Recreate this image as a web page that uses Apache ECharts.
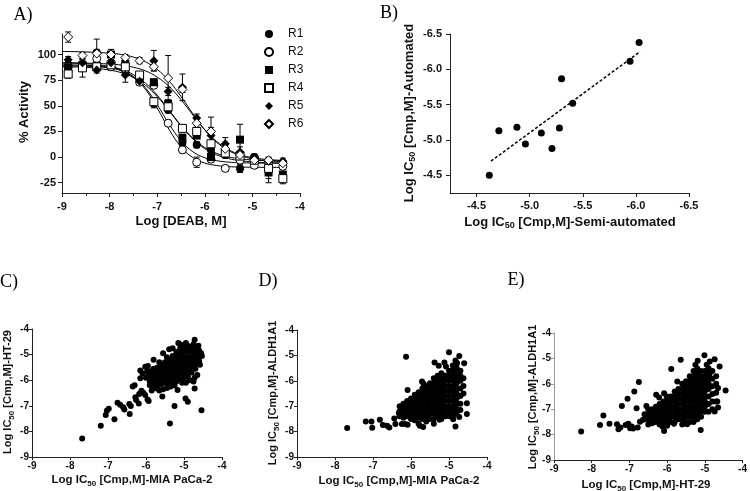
<!DOCTYPE html>
<html><head><meta charset="utf-8">
<script src="https://cdn.jsdelivr.net/npm/echarts@6/dist/echarts.min.js"></script>
<style>html,body{margin:0;padding:0;background:#fff}#c{width:750px;height:491px}</style>
</head><body><div id="c"></div>
<script>
// ---------- Panel A data ----------
const conc = [-8.87,-8.57,-8.27,-7.97,-7.67,-7.37,-7.07,-6.77,-6.47,-6.17,-5.87,-5.57,-5.26,-4.96,-4.66,-4.36];
const seriesNames = ['R1','R2','R3','R4','R5','R6'];
const r1 = [90,90,102,91,84,76,52,46,14,12,7,2,-11,0,-6,-6];
const r2 = [88,89,96,88,86,73,70,33,7,-5,-2,-11,-3,-8,-5,-9];
const r3 = [87,90,89,100,91,79,73,52,19,21,0,5,17,-2,-15,-17];
const r4 = [81,87,88,90,88,80,54,49,28,25,13,4,1,-3,-11,-21];
const r5 = [95,92,85,92,80,74,94,64,68,38,21,13,5,-1,-4,-4];
const r6 = [117,99,101,100,97,94,88,77,66,33,25,8,2,-3,-3,-6];
const e1 = [3,3,13,4,3,3,4,3,3,3,3,3,4,3,3,3];
const e2 = [3,3,4,3,3,3,3,3,3,5,3,3,3,3,3,3];
const e3 = [3,3,3,5,3,3,3,4,3,3,4,3,15,3,10,5];
const e4 = [4,9,3,3,3,3,4,3,3,4,3,3,3,3,10,5];
const e5 = [3,3,3,3,7,3,10,4,13,4,8,6,5,3,3,3];
const e6 = [5,3,3,3,3,3,4,22,3,4,14,3,3,4,3,3];
// fitted curves
const fitX = [-9,-8.5,-8,-7.75,-7.5,-7.25,-7,-6.75,-6.5,-6.25,-6,-5.75,-5.5,-5.25,-5,-4.75,-4.36];
const f1 = [89.9,89.5,87.5,84.6,78.6,67.8,51.1,32.2,15.9,5.2,-0.7,-3.5,-4.9,-5.5,-5.8,-5.9,-6];
const f2 = [89,88.6,86.9,84,77.9,66.2,47.9,26.9,9.9,-0.5,-5.8,-8.2,-9.3,-9.7,-9.9,-10,-10];
const f3 = [91.7,91,88.4,85.4,80.4,72.2,60.4,45.7,30.9,18.4,9.3,3.6,0.2,-1.7,-2.8,-3.4,-3.8];
const f4 = [88,87.5,84.8,82.2,77.5,70.1,59,45.1,30.4,17.7,8.2,2.2,-1.5,-3.5,-4.7,-5.3,-5.7];
const f5 = [92,91.6,90.7,89.7,87.6,84.1,78,68.9,56,41,26.6,15.2,7.2,2.3,-0.6,-2.1,-3.3];
const f6 = [103,102.5,101.3,100,97.5,93,85.5,74.2,59.1,42.2,26.5,14.4,6.3,1.3,-1.6,-3.2,-4.3];
const yTicksA = [-25,0,25,50,75,100];

// ---------- Panel B data ----------
const bX = [-4.62,-4.71,-4.88,-4.96,-5.11,-5.21,-5.30,-5.28,-5.405,-5.945,-6.03];
const bY = [-4.5,-5.13,-5.18,-4.945,-5.10,-4.88,-5.865,-5.17,-5.52,-6.115,-6.38];
const bFitX = [-4.635,-6.04];
const bFitY = [-4.70,-6.25];
const bTicks = [-6.5,-6,-5.5,-5,-4.5];

// ---------- Panel C data (MIA PaCa-2 vs HT-29) ----------
const cPts = [[-7.68,-8.28],[-7.19,-7.78],[-6.83,-7.53],[-7.06,-7.36],[-7.03,-7.19],[-6.98,-7.12],[-6.75,-6.88],[-6.68,-6.96],[-6.6,-7.06],[-6.57,-7.14],[-6.43,-7.32],[-6.44,-6.93],[-6.4,-7.01],[-6.35,-6.25],[-6.3,-6.2],[-6.19,-6.91],[-6.26,-6.77],[-6.28,-6.67],[-6.18,-6.54],[-6.12,-6.41],[-6.07,-6.49],[-6.02,-6.58],[-5.96,-6.75],[-5.93,-6.81],[-6.15,-5.92],[-6.15,-5.62],[-6.09,-5.73],[-6.02,-5.47],[-5.97,-5.66],[-5.93,-5.79],[-5.89,-5.96],[-5.84,-6.12],[-5.8,-5.2],[-5.75,-6.25],[-5.71,-6.32],[-5.57,-6.64],[-5.39,-4.79],[-5.25,-7.01],[-5.37,-7.69],[-5.17,-6.38],[-4.96,-6.71],[-4.9,-6.84],[-4.72,-6.32],[-4.54,-7.17],[-4.72,-4.42],[-4.53,-5.05],
[-5.95,-5.45],[-6.0,-5.9],[-5.85,-6.4],[-5.65,-6.4],[-5.45,-6.3],[-5.05,-6.1],[-4.85,-6.0],[-4.65,-5.8],[-4.62,-4.65],[-5.55,-4.95],[-5.3,-4.75],[-5.1,-4.6],[-5.45,-5.1],[-5.65,-5.3],[-5.25,-6.2],[-4.75,-6.05],[-4.95,-6.1],[-5.15,-4.55],[-4.95,-4.55],[-4.75,-4.6],[-4.55,-4.95],[-4.58,-5.4],[-4.72,-5.9],[-5.0,-6.05],[-5.35,-6.25],[-5.55,-6.35]];
const cCore = [[-5.9,[-5.65,-5.85,-6.05,-6.2]],[-5.8,[-5.55,-5.75,-5.95,-6.15,-6.3]],[-5.7,[-5.5,-5.7,-5.9,-6.1,-6.25]],[-5.6,[-5.4,-5.6,-5.8,-6.0,-6.15]],[-5.5,[-5.3,-5.5,-5.7,-5.9,-6.1]],[-5.4,[-5.2,-5.4,-5.6,-5.8,-6.0,-6.15]],[-5.3,[-5.05,-5.25,-5.45,-5.65,-5.85,-6.05]],[-5.2,[-4.9,-5.1,-5.3,-5.5,-5.7,-5.9,-6.05]],[-5.1,[-4.75,-4.95,-5.15,-5.35,-5.55,-5.75,-5.95]],[-5.0,[-4.7,-4.9,-5.1,-5.3,-5.5,-5.7,-5.9]],[-4.9,[-4.65,-4.85,-5.05,-5.25,-5.45,-5.65,-5.85]],[-4.8,[-4.7,-4.9,-5.1,-5.3,-5.5,-5.7]],[-4.7,[-4.75,-4.95,-5.15,-5.35,-5.55]],[-4.6,[-4.85,-5.05,-5.25]]];

// ---------- Panel D data (MIA PaCa-2 vs ALDH1A1) ----------
const dPts = [[-7.68,-7.86],[-7.19,-7.6],[-7.04,-7.6],[-7.02,-7.85],[-6.82,-7.53],[-6.74,-7.74],[-6.63,-7.77],[-6.57,-7.84],[-6.44,-7.48],[-6.41,-7.7],[-6.32,-7.27],[-6.28,-7.21],[-6.24,-7.7],[-6.15,-7.7],[-6.09,-7.73],[-6.13,-5.05],[-6.09,-6.36],[-6.19,-7.08],[-6.11,-6.88],[-6.02,-7.01],[-5.93,-6.81],[-5.8,-7.69],[-5.77,-7.77],[-5.68,-7.82],[-5.71,-6.03],[-5.67,-6.12],[-5.54,-6.23],[-5.38,-5.28],[-5.27,-5.41],[-5.12,-5.28],[-5.08,-5.44],[-5.40,-7.69],[-5.25,-7.53],[-5.0,-4.88],[-4.73,-5.02],[-4.83,-5.2],[-4.79,-5.31],[-4.6,-5.31],[-4.53,-6.88],[-4.53,-7.31],[-4.73,-7.43],[-4.83,-7.8],[-4.89,-7.51]];
const dCore = [[-6.3,[-7.0,-7.2,-7.4]],[-6.2,[-6.9,-7.1,-7.3,-7.45]],[-6.1,[-6.8,-7.0,-7.2,-7.4]],[-6.0,[-6.7,-6.9,-7.1,-7.3,-7.5]],[-5.9,[-6.55,-6.75,-6.95,-7.15,-7.35,-7.55]],[-5.8,[-6.45,-6.65,-6.85,-7.05,-7.25,-7.45]],[-5.7,[-6.3,-6.5,-6.7,-6.9,-7.1,-7.3,-7.5]],[-5.6,[-6.2,-6.4,-6.6,-6.8,-7.0,-7.2,-7.4,-7.6]],[-5.5,[-6.1,-6.3,-6.5,-6.7,-6.9,-7.1,-7.3,-7.5]],[-5.4,[-5.9,-6.1,-6.3,-6.5,-6.7,-6.9,-7.1,-7.3,-7.5]],[-5.3,[-5.8,-6.0,-6.2,-6.4,-6.6,-6.8,-7.0,-7.2,-7.4]],[-5.2,[-5.7,-5.9,-6.1,-6.3,-6.5,-6.7,-6.9,-7.1,-7.3,-7.5]],[-5.1,[-5.8,-6.0,-6.2,-6.4,-6.6,-6.8,-7.0,-7.2,-7.4]],[-5.0,[-5.6,-5.8,-6.0,-6.2,-6.4,-6.6,-6.8,-7.0,-7.2,-7.4]],[-4.9,[-5.4,-5.6,-5.8,-6.0,-6.2,-6.4,-6.6,-6.8,-7.0,-7.2,-7.4]],[-4.8,[-5.3,-5.5,-5.7,-5.9,-6.1,-6.3,-6.5,-6.7,-6.9,-7.1,-7.3]],[-4.7,[-5.6,-5.8,-6.0,-6.3,-6.6,-6.9,-7.15]],[-4.62,[-5.9,-6.2,-6.5]]];

// ---------- Panel E data (HT-29 vs ALDH1A1) ----------
const ePts = [[-8.28,-7.88],[-7.78,-7.62],[-7.69,-7.25],[-7.53,-7.57],[-7.33,-7.59],[-7.29,-7.79],[-7.24,-7.72],[-7.2,-6.87],[-7.1,-7.62],[-7.03,-7.57],[-6.98,-7.75],[-6.94,-7.68],[-6.9,-7.76],[-7.05,-6.59],[-6.87,-6.30],[-6.81,-6.96],[-6.75,-5.93],[-6.78,-7.72],[-6.72,-7.49],[-6.64,-7.42],[-6.55,-6.87],[-6.47,-7.38],[-6.35,-7.25],[-6.25,-7.2],[-6.29,-6.43],[-6.21,-6.54],[-6.08,-6.37],[-6.01,-6.5],[-5.89,-5.42],[-5.73,-5.91],[-5.64,-5.05],[-5.25,-5.25],[-5.19,-5.09],[-5.01,-4.88],[-4.95,-5.25],[-4.87,-5.12],[-4.74,-5.03],[-4.61,-5.32],[-4.88,-5.62],[-4.86,-5.78],[-4.65,-6.17],[-4.45,-6.26],[-4.67,-6.70],[-4.65,-6.93],[-4.74,-7.09],[-5.11,-7.82],[-5.37,-7.29],[-5.47,-7.59],[-5.82,-7.57],[-6.12,-7.68],[-6.08,-7.86]];
const eCore = [[-6.6,[-7.2,-7.4]],[-6.5,[-7.0,-7.2,-7.4,-7.6]],[-6.4,[-7.0,-7.2,-7.4,-7.55]],[-6.3,[-6.9,-7.1,-7.3,-7.5]],[-6.2,[-6.8,-7.0,-7.2,-7.4,-7.6]],[-6.1,[-6.7,-6.9,-7.1,-7.3,-7.5,-7.7]],[-6.0,[-6.65,-6.85,-7.05,-7.25,-7.45,-7.65]],[-5.9,[-6.5,-6.7,-6.9,-7.1,-7.3,-7.5]],[-5.8,[-6.3,-6.5,-6.7,-6.9,-7.1,-7.3,-7.5]],[-5.7,[-6.2,-6.4,-6.6,-6.8,-7.0,-7.2,-7.4]],[-5.6,[-6.0,-6.2,-6.4,-6.6,-6.8,-7.0,-7.2,-7.4,-7.6]],[-5.5,[-5.9,-6.1,-6.3,-6.5,-6.7,-6.9,-7.1,-7.3,-7.5]],[-5.4,[-5.7,-5.9,-6.1,-6.3,-6.5,-6.7,-6.9,-7.1,-7.3,-7.5]],[-5.3,[-5.5,-5.7,-5.9,-6.1,-6.3,-6.5,-6.7,-6.9,-7.1,-7.3,-7.5]],[-5.2,[-5.4,-5.6,-5.8,-6.0,-6.2,-6.4,-6.6,-6.8,-7.0,-7.2,-7.4]],[-5.1,[-5.5,-5.7,-5.9,-6.1,-6.3,-6.5,-6.7,-6.9,-7.1,-7.3]],[-5.0,[-5.5,-5.7,-5.9,-6.1,-6.3,-6.5,-6.7,-6.9,-7.1]],[-4.9,[-5.4,-5.6,-5.8,-6.0,-6.2,-6.5,-6.8,-7.1]],[-4.8,[-5.5,-5.8,-6.1,-6.4,-6.7,-7.0]],[-4.7,[-5.7,-6.0,-6.35,-6.7]]];
const xyTicks = [-9,-8,-7,-6,-5,-4];

// ---------- build ----------
const FF = '"Liberation Sans", Arial, sans-serif';
const INK = '#111';
function flat(core){ const out=[]; core.forEach(r=>r[1].forEach(y=>out.push([r[0],y]))); return out; }

function mkAxis(gi, min, max, o) {
  o = o || {};
  const lc = o.lineColor || '#222';
  const a = {
    type:'value', gridIndex:gi, min:min, max:max, inverse:!!o.inverse,
    splitLine:{show:false},
    axisLine:{show:true,onZero:false,lineStyle:{color:lc,width:1}},
    axisTick:{show:true,length:o.tickLen||4,lineStyle:{color:lc,width:1}},
    axisLabel:{fontFamily:FF,fontWeight:'bold',fontSize:o.fs||11,color:INK,margin:o.margin||6}
  };
  if (o.interval) a.interval = o.interval;
  if (o.ticks) { a.axisTick.customValues = o.ticks; a.axisLabel.customValues = o.ticks; }
  if (o.fmt) a.axisLabel.formatter = o.fmt;
  if (o.minor) { a.minorTick = {show:true,splitNumber:2,length:3,lineStyle:{color:lc}}; a.minorSplitLine={show:false}; }
  return a;
}

const ptsA = [r1,r2,r3,r4,r5,r6];
const errA = [e1,e2,e3,e4,e5,e6];
const fitA = [f1,f2,f3,f4,f5,f6];
const symA = ['circle','circle','rect','rect','diamond','diamond'];
const openA = [false,true,false,true,false,true];
const sizeA = [8,8,8,8,9,9];

function errItem(params, api){
  const x = api.value(0), lo = api.value(1), hi = api.value(2);
  const p1 = api.coord([x, lo]), p2 = api.coord([x, hi]);
  const w = 3, st = {stroke:'#000', lineWidth:1};
  return {type:'group', children:[
    {type:'line', shape:{x1:p1[0],y1:p1[1],x2:p2[0],y2:p2[1]}, style:st},
    {type:'line', shape:{x1:p1[0]-w,y1:p1[1],x2:p1[0]+w,y2:p1[1]}, style:st},
    {type:'line', shape:{x1:p2[0]-w,y1:p2[1],x2:p2[0]+w,y2:p2[1]}, style:st}
  ]};
}

const series = [];
fitA.forEach((f,i)=>{
  series.push({type:'line', name:seriesNames[i]+' fit', xAxisIndex:0, yAxisIndex:0, data:fitX.map((x,j)=>[x,f[j]]),
    smooth:0.4, showSymbol:false, symbol:'none', lineStyle:{color:'#000',width:1}, z:1, silent:true});
});
ptsA.forEach((p,i)=>{
  series.push({type:'custom', name:seriesNames[i]+' err', xAxisIndex:0, yAxisIndex:0, renderItem:errItem,
    data:conc.map((x,j)=>[x, p[j]-errA[i][j], p[j]+errA[i][j]]), encode:{x:0,y:[1,2]}, z:2, silent:true});
});
ptsA.forEach((p,i)=>{
  series.push({type:'scatter', name:seriesNames[i], xAxisIndex:0, yAxisIndex:0, symbol:symA[i], symbolSize:sizeA[i],
    data:conc.map((x,j)=>[x,p[j]]),
    itemStyle: openA[i] ? {color:'#fff', borderColor:'#000', borderWidth:1, opacity:1} : {color:'#000', borderColor:'#000', borderWidth:0, opacity:1},
    z:3});
});
// Panel B
series.push({type:'line', xAxisIndex:1, yAxisIndex:1, data:bFitX.map((x,j)=>[x,bFitY[j]]), showSymbol:false, symbol:'none',
  lineStyle:{color:'#000', width:1.5, type:[3,2]}, silent:true});
series.push({type:'scatter', xAxisIndex:1, yAxisIndex:1, symbolSize:7, itemStyle:{color:'#000',opacity:1}, data:bX.map((x,j)=>[x,bY[j]])});
// Panels C, D, E
series.push({type:'scatter', xAxisIndex:2, yAxisIndex:2, symbolSize:6, itemStyle:{color:'#000',opacity:1}, data:cPts.concat(flat(cCore))});
series.push({type:'scatter', xAxisIndex:3, yAxisIndex:3, symbolSize:6, itemStyle:{color:'#000',opacity:1}, data:dPts.concat(flat(dCore))});
series.push({type:'scatter', xAxisIndex:4, yAxisIndex:4, symbolSize:6, itemStyle:{color:'#000',opacity:1}, data:ePts.concat(flat(eCore))});

function panelLabel(t,x,y){ return {type:'text', x:x, y:y, style:{text:t, fontFamily:'"Liberation Serif", "Times New Roman", serif', fontSize:18, fill:'#000', align:'center', verticalAlign:'middle'}}; }
function plain(t,x,y,rot,fs){ return {type:'text', x:x, y:y, rotation:rot?Math.PI/2:0, style:{text:t, fontFamily:FF, fontWeight:'bold', fontSize:fs, fill:INK, align:'center', verticalAlign:'middle'}}; }
function subT(post,x,y,rot,fs,sfs){
  return {type:'text', x:x, y:y, rotation:rot?Math.PI/2:0, style:{
    text:'{a|Log IC}{s|50}{a|'+post+'}', align:'center', verticalAlign:'middle',
    rich:{a:{fontFamily:FF,fontWeight:'bold',fontSize:fs,lineHeight:fs+4,fill:INK},
          s:{fontFamily:FF,fontWeight:'bold',fontSize:sfs,lineHeight:sfs,verticalAlign:'bottom',fill:INK}}}};
}

const fmt1 = v => Number(v).toFixed(1);
const option = {
  animation:false,
  backgroundColor:'#fff',
  textStyle:{fontFamily:FF},
  grid:[
    {left:62, top:34, width:238, height:159},
    {left:450, top:34, width:239, height:159},
    {left:32, top:329, width:190, height:128},
    {left:297, top:330, width:190, height:127},
    {left:554, top:333, width:193, height:127}
  ],
  xAxis:[
    mkAxis(0,-9,-4,{interval:1, minor:true, margin:8}),
    mkAxis(1,-6.5,-4.25,{inverse:true, ticks:bTicks, fmt:fmt1, margin:7}),
    mkAxis(2,-9,-4,{interval:1, fs:10, margin:4, tickLen:3}),
    mkAxis(3,-9,-4,{interval:1, fs:10, margin:4, tickLen:3}),
    mkAxis(4,-9,-4,{interval:1, fs:10, margin:4, tickLen:3})
  ],
  yAxis:[
    mkAxis(0,-35,120,{ticks:yTicksA, margin:6}),
    mkAxis(1,-6.5,-4.25,{inverse:true, ticks:bTicks, fmt:fmt1, margin:8}),
    mkAxis(2,-9,-4,{interval:1, fs:10, margin:3, tickLen:3}),
    mkAxis(3,-9,-4,{interval:1, fs:10, margin:3, tickLen:3}),
    mkAxis(4,-9,-4,{interval:1, fs:10, margin:3, tickLen:3, lineColor:'#999'})
  ],
  legend:{data:seriesNames, orient:'vertical', left:264, top:28, itemWidth:8, itemHeight:8, itemGap:6,
    selectedMode:false, padding:0,
    textStyle:{fontFamily:FF, fontSize:12, lineHeight:12, color:INK, padding:[0,0,0,10]}},
  graphic:[
    panelLabel('A)',23,15), panelLabel('B)',389,13), panelLabel('C)',9,282), panelLabel('D)',268,281), panelLabel('E)',516,280),
    plain('% Activity',24,112,true,13),
    plain('Log [DEAB, M]',181,221,false,13),
    subT(' [Cmp,M]-Automated',409,113,true,13,9),
    subT(' [Cmp,M]-Semi-automated',570,222,false,13,9),
    subT(' [Cmp,M]-HT-29',8,392,true,11,8),
    subT(' [Cmp,M]-MIA PaCa-2',132,480,false,11.5,8),
    subT(' [Cmp,M]-ALDH1A1',273,393,true,11,8),
    subT(' [Cmp,M]-MIA PaCa-2',399,481,false,11.5,8),
    subT(' [Cmp,M]-ALDH1A1',533,397,true,11,8),
    subT(' [Cmp,M]-HT-29',646,485,false,11.5,8)
  ],
  series:series
};
const chart = echarts.init(document.getElementById('c'), null, {renderer:'canvas'});
chart.setOption(option);
</script>
</body></html>
